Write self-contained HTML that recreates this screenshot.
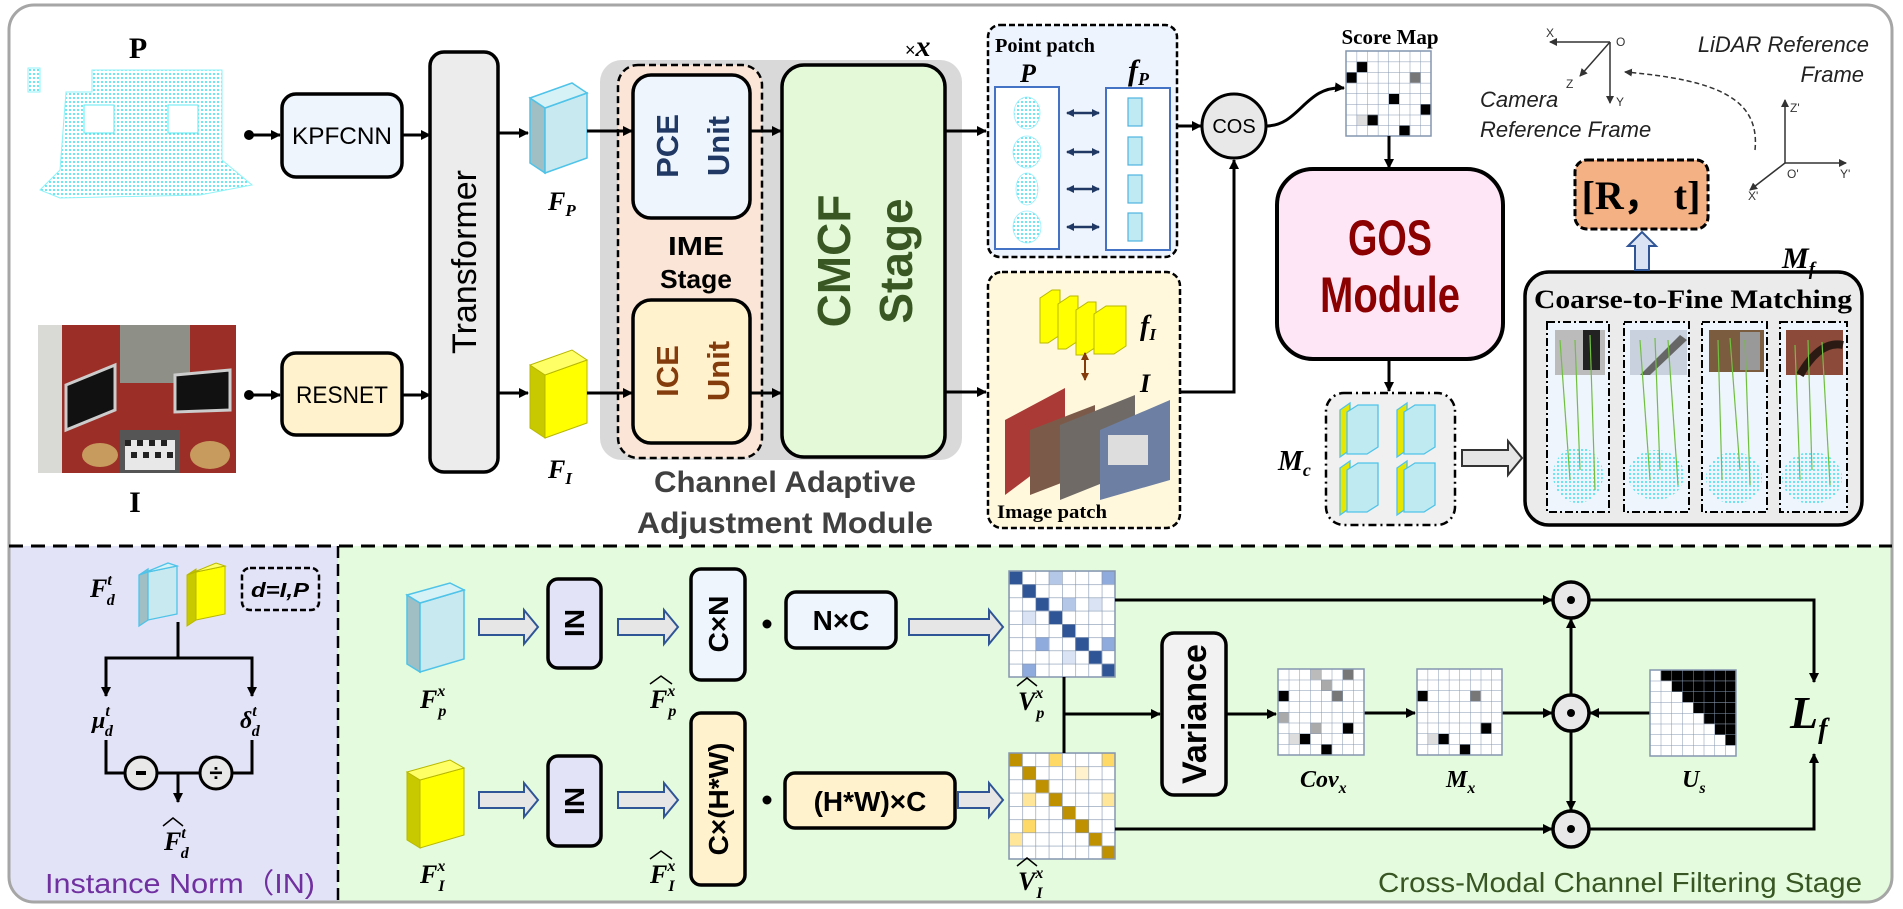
<!DOCTYPE html>
<html><head><meta charset="utf-8"><style>
html,body{margin:0;padding:0;background:#fff;}
svg{display:block;}
text{font-family:"Liberation Sans",sans-serif;}
.sf{font-family:"Liberation Serif",serif;font-weight:bold;}
.si{font-family:"Liberation Serif",serif;font-weight:bold;font-style:italic;}
</style></head><body>
<svg width="1903" height="909" viewBox="0 0 1903 909" xmlns="http://www.w3.org/2000/svg">
<defs>
<marker id="ar" markerWidth="10" markerHeight="10" refX="9" refY="5" orient="auto" markerUnits="userSpaceOnUse"><path d="M0,0 L10,5 L0,10 z" fill="#000"/></marker>
<marker id="arb" markerWidth="8" markerHeight="8" refX="7" refY="4" orient="auto-start-reverse" markerUnits="userSpaceOnUse"><path d="M0,0 L8,4 L0,8 z" fill="#1f3864"/></marker>
<marker id="arr" markerWidth="8" markerHeight="8" refX="7" refY="4" orient="auto-start-reverse" markerUnits="userSpaceOnUse"><path d="M0,0 L8,4 L0,8 z" fill="#843c0c"/></marker>
<marker id="ars" markerWidth="8" markerHeight="8" refX="7" refY="4" orient="auto" markerUnits="userSpaceOnUse"><path d="M0,0 L8,4 L0,8 z" fill="#333"/></marker>
<clipPath id="frame"><rect x="9" y="5" width="1883" height="897" rx="25"/></clipPath>
<pattern id="dots" width="4" height="4" patternUnits="userSpaceOnUse"><circle cx="2" cy="2" r="1" fill="#3fe0ee"/></pattern>
<pattern id="gVp" x="1009" y="571" width="13.25" height="13.25" patternUnits="userSpaceOnUse"><path d="M0,0H13.25M0,0V13.25" stroke="#8496b0" stroke-width="1.2" fill="none"/></pattern>
<pattern id="gVi" x="1009" y="753" width="13.25" height="13.25" patternUnits="userSpaceOnUse"><path d="M0,0H13.25M0,0V13.25" stroke="#8496b0" stroke-width="1.2" fill="none"/></pattern>
<pattern id="gS" x="1346" y="51" width="10.625" height="10.625" patternUnits="userSpaceOnUse"><path d="M0,0H10.625M0,0V10.625" stroke="#8496b0" stroke-width="1" fill="none"/></pattern>
<pattern id="gC" x="1278" y="669" width="10.75" height="10.75" patternUnits="userSpaceOnUse"><path d="M0,0H10.75M0,0V10.75" stroke="#8496b0" stroke-width="1" fill="none"/></pattern>
<pattern id="gM" x="1417" y="669" width="10.625" height="10.75" patternUnits="userSpaceOnUse"><path d="M0,0H10.625M0,0V10.75" stroke="#8496b0" stroke-width="1" fill="none"/></pattern>
<pattern id="gU" x="1650" y="670" width="10.75" height="10.75" patternUnits="userSpaceOnUse"><path d="M0,0H10.75M0,0V10.75" stroke="#8496b0" stroke-width="1" fill="none"/></pattern>
</defs>

<rect x="9" y="5" width="1883" height="897" rx="25" fill="#fff"/>
<g clip-path="url(#frame)">
<rect x="9" y="546" width="329" height="358" fill="#e3e3f8"/>
<rect x="338" y="546" width="1556" height="358" fill="#e5fbdd"/>
</g>
<rect x="9" y="5" width="1883" height="897" rx="25" fill="none" stroke="#a6a6a6" stroke-width="3"/>
<line x1="9" y1="546" x2="1892" y2="546" stroke="#000" stroke-width="3" stroke-dasharray="14 8"/>
<line x1="338" y1="546" x2="338" y2="902" stroke="#000" stroke-width="2.5" stroke-dasharray="12 6"/>

<text x="138" y="58" class="sf" font-size="30" text-anchor="middle">P</text>
<g fill="url(#dots)" stroke="#8ff3f8" stroke-width="1">
<polygon points="92,70 222,70 222,160 252,185 200,195 60,198 40,190 60,170 66,92 92,92"/>
<rect x="28" y="68" width="12" height="24"/>
</g>
<rect x="84" y="105" width="30" height="28" fill="#fff" stroke="#5fe8f0"/>
<rect x="168" y="105" width="30" height="28" fill="#fff" stroke="#5fe8f0"/>

<rect x="38" y="325" width="198" height="148" fill="#9b2f27"/>
<rect x="38" y="325" width="24" height="148" fill="#d9d9d6"/>
<rect x="120" y="325" width="70" height="58" fill="#8e8f86"/>
<polygon points="66,385 115,365 115,410 66,430" fill="#111" stroke="#ccc" stroke-width="3"/>
<polygon points="175,375 230,370 230,410 175,412" fill="#111" stroke="#ccc" stroke-width="3"/>
<rect x="120" y="430" width="60" height="43" fill="#555"/>
<rect x="125" y="440" width="50" height="30" fill="#e8e8e8"/>
<g fill="#222"><rect x="125" y="440" width="6" height="6"/><rect x="137" y="440" width="6" height="6"/><rect x="149" y="440" width="6" height="6"/><rect x="161" y="440" width="6" height="6"/><rect x="131" y="452" width="6" height="6"/><rect x="143" y="452" width="6" height="6"/><rect x="155" y="452" width="6" height="6"/><rect x="167" y="452" width="6" height="6"/></g>
<ellipse cx="100" cy="455" rx="18" ry="12" fill="#c79a5e"/>
<ellipse cx="210" cy="455" rx="20" ry="14" fill="#c79a5e"/>
<text x="135" y="512" class="sf" font-size="30" text-anchor="middle">I</text>

<circle cx="249" cy="135" r="5"/><line x1="249" y1="135" x2="280" y2="135" stroke="#000" stroke-width="3" marker-end="url(#ar)"/>
<rect x="282" y="94" width="120" height="83" rx="14" fill="#eef5fc" stroke="#000" stroke-width="3.5"/>
<text x="342" y="144" font-size="24" text-anchor="middle" textLength="100" lengthAdjust="spacingAndGlyphs">KPFCNN</text>
<circle cx="249" cy="395" r="5"/><line x1="249" y1="395" x2="280" y2="395" stroke="#000" stroke-width="3" marker-end="url(#ar)"/>
<rect x="282" y="353" width="120" height="82" rx="14" fill="#fff2cc" stroke="#000" stroke-width="3.5"/>
<text x="342" y="403" font-size="24" text-anchor="middle" textLength="92" lengthAdjust="spacingAndGlyphs">RESNET</text>
<line x1="402" y1="135" x2="430" y2="135" stroke="#000" stroke-width="3" marker-end="url(#ar)"/>
<line x1="402" y1="395" x2="430" y2="395" stroke="#000" stroke-width="3" marker-end="url(#ar)"/>
<rect x="430" y="52" width="68" height="420" rx="14" fill="#ececec" stroke="#000" stroke-width="3.5"/>
<text transform="translate(476,262) rotate(-90)" font-size="34" text-anchor="middle">Transformer</text>
<line x1="498" y1="133" x2="528" y2="133" stroke="#000" stroke-width="3" marker-end="url(#ar)"/>
<line x1="498" y1="393" x2="528" y2="393" stroke="#000" stroke-width="3" marker-end="url(#ar)"/>

<g stroke="#4fc3e8" stroke-width="1.5">
<polygon points="530,98 545,108 545,173 530,163" fill="#9fbfc4"/>
<polygon points="545,108 587,93 587,158 545,173" fill="#c8e9ef"/>
<polygon points="530,98 572,83 587,93 545,108" fill="#d6f2f6"/>
</g>
<g stroke="#b8b800" stroke-width="1">
<polygon points="530,365 545,375 545,438 530,428" fill="#c9c900"/>
<polygon points="545,375 587,360 587,423 545,438" fill="#ffff00"/>
<polygon points="530,365 572,350 587,360 545,375" fill="#ffff66"/>
</g>
<text x="548" y="210" class="si" font-size="26">F<tspan font-size="17" dy="6">P</tspan></text>
<text x="548" y="478" class="si" font-size="26">F<tspan font-size="17" dy="6">I</tspan></text>

<rect x="600" y="60" width="362" height="400" rx="22" fill="#d9d9d9"/>
<rect x="618" y="65" width="144" height="393" rx="20" fill="#fbe5d6" stroke="#000" stroke-width="2.5" stroke-dasharray="7 4"/>
<rect x="633" y="75" width="117" height="143" rx="18" fill="#eef5fc" stroke="#000" stroke-width="3.5"/>
<text transform="translate(678,146) rotate(-90)" font-size="31" font-weight="bold" fill="#1f3864" text-anchor="middle">PCE</text>
<text transform="translate(729,146) rotate(-90)" font-size="31" font-weight="bold" fill="#1f3864" text-anchor="middle">Unit</text>
<text x="696" y="255" font-size="26" font-weight="bold" text-anchor="middle" textLength="56" lengthAdjust="spacingAndGlyphs">IME</text>
<text x="696" y="288" font-size="26" font-weight="bold" text-anchor="middle" textLength="72" lengthAdjust="spacingAndGlyphs">Stage</text>
<rect x="633" y="300" width="117" height="143" rx="18" fill="#fff2cc" stroke="#000" stroke-width="3.5"/>
<text transform="translate(678,371) rotate(-90)" font-size="31" font-weight="bold" fill="#843c0c" text-anchor="middle">ICE</text>
<text transform="translate(729,371) rotate(-90)" font-size="31" font-weight="bold" fill="#843c0c" text-anchor="middle">Unit</text>
<line x1="587" y1="131" x2="632" y2="131" stroke="#000" stroke-width="3" marker-end="url(#ar)"/>
<line x1="587" y1="393" x2="632" y2="393" stroke="#000" stroke-width="3" marker-end="url(#ar)"/>
<line x1="750" y1="131" x2="781" y2="131" stroke="#000" stroke-width="3" marker-end="url(#ar)"/>
<line x1="750" y1="393" x2="781" y2="393" stroke="#000" stroke-width="3" marker-end="url(#ar)"/>
<rect x="782" y="65" width="163" height="392" rx="22" fill="#e3f9d8" stroke="#000" stroke-width="3.5"/>
<text transform="translate(850,261) rotate(-90)" font-size="46" font-weight="bold" fill="#385723" text-anchor="middle">CMCF</text>
<text transform="translate(912,261) rotate(-90)" font-size="46" font-weight="bold" fill="#385723" text-anchor="middle">Stage</text>
<text x="905" y="56" font-size="18">×<tspan class="si" font-size="30">x</tspan></text>
<text x="785" y="492" font-size="30" font-weight="bold" fill="#404040" text-anchor="middle" textLength="262" lengthAdjust="spacingAndGlyphs">Channel Adaptive</text>
<text x="785" y="533" font-size="30" font-weight="bold" fill="#404040" text-anchor="middle" textLength="296" lengthAdjust="spacingAndGlyphs">Adjustment Module</text>
<line x1="945" y1="131" x2="986" y2="131" stroke="#000" stroke-width="3" marker-end="url(#ar)"/>
<line x1="945" y1="392" x2="986" y2="392" stroke="#000" stroke-width="3" marker-end="url(#ar)"/>

<rect x="988" y="25" width="189" height="232" rx="12" fill="#eef4fd" stroke="#000" stroke-width="2.5" stroke-dasharray="6 3"/>
<text x="995" y="52" class="sf" font-size="20" textLength="100" lengthAdjust="spacingAndGlyphs">Point patch</text>
<text x="1020" y="82" class="si" font-size="26">P</text>
<text x="1128" y="80" class="si" font-size="30">f<tspan font-size="18" dy="5">P</tspan></text>
<rect x="995" y="87" width="64" height="162" fill="#fff" stroke="#4472c4" stroke-width="2"/>
<g fill="url(#dots)" stroke="#9ef" stroke-width="0.8">
<ellipse cx="1027" cy="113" rx="13" ry="16"/><ellipse cx="1027" cy="152" rx="14" ry="16"/><ellipse cx="1027" cy="189" rx="11" ry="16"/><ellipse cx="1027" cy="227" rx="14" ry="16"/>
</g>
<rect x="1106" y="88" width="64" height="162" fill="#fff" stroke="#4472c4" stroke-width="2"/>
<g fill="#bfe9f3" stroke="#4fb3e0" stroke-width="1.2">
<rect x="1128" y="98" width="14" height="28"/><rect x="1128" y="137" width="14" height="28"/><rect x="1128" y="175" width="14" height="28"/><rect x="1128" y="213" width="14" height="28"/>
</g>
<g stroke="#1f3864" stroke-width="2.5" marker-start="url(#arb)" marker-end="url(#arb)">
<line x1="1067" y1="113" x2="1099" y2="113"/><line x1="1067" y1="152" x2="1099" y2="152"/><line x1="1067" y1="189" x2="1099" y2="189"/><line x1="1067" y1="227" x2="1099" y2="227"/>
</g>
<line x1="1177" y1="126" x2="1201" y2="126" stroke="#000" stroke-width="3" marker-end="url(#ar)"/>
<circle cx="1234" cy="126" r="32" fill="#e8e8e8" stroke="#000" stroke-width="3"/>
<text x="1234" y="133" font-size="20" text-anchor="middle">COS</text>
<path d="M1266,126 C1300,126 1305,85 1344,88" fill="none" stroke="#000" stroke-width="3" marker-end="url(#ar)"/>

<rect x="988" y="272" width="192" height="256" rx="14" fill="#fff8dc" stroke="#000" stroke-width="2.5" stroke-dasharray="6 3"/>
<g stroke="#b8b800" stroke-width="1">
<polygon points="1040,298 1052,290 1060,290 1060,335 1048,343 1040,343" fill="#ffff00"/>
<polygon points="1058,304 1070,296 1078,296 1078,341 1066,349 1058,349" fill="#ffff00"/>
<polygon points="1076,310 1088,302 1096,302 1096,347 1084,355 1076,355" fill="#ffff00"/>
<polygon points="1094,314 1106,306 1126,306 1126,346 1114,354 1094,354" fill="#ffff00"/>
</g>
<text x="1140" y="335" class="si" font-size="28">f<tspan font-size="17" dy="5">I</tspan></text>
<line x1="1085" y1="353" x2="1085" y2="380" stroke="#843c0c" stroke-width="2" marker-start="url(#arr)" marker-end="url(#arr)"/>
<text x="1140" y="392" class="si" font-size="26">I</text>
<polygon points="1005,420 1065,388 1065,450 1005,495" fill="#a93a36"/>
<polygon points="1030,430 1095,405 1095,470 1030,495" fill="#7c5a4a"/>
<polygon points="1060,425 1135,395 1135,470 1060,500" fill="#6f6a66"/>
<polygon points="1100,430 1170,400 1170,480 1100,500" fill="#6d7fa3"/>
<rect x="1108" y="435" width="40" height="30" fill="#ddd"/>
<text x="997" y="518" class="sf" font-size="19" textLength="110" lengthAdjust="spacingAndGlyphs">Image patch</text>
<polyline points="1180,392 1234,392 1234,160" fill="none" stroke="#000" stroke-width="3" marker-end="url(#ar)"/>

<text x="1390" y="44" class="sf" font-size="21" text-anchor="middle">Score Map</text>
<rect x="1346" y="51" width="85" height="85" fill="#fff"/>
<g fill="#000">
<rect x="1356.6" y="61.6" width="10.6" height="10.6"/><rect x="1346" y="72.2" width="10.6" height="10.6"/><rect x="1388.5" y="93.5" width="10.6" height="10.6"/><rect x="1420.4" y="104.1" width="10.6" height="10.6"/><rect x="1367.2" y="114.7" width="10.6" height="10.6"/><rect x="1399.1" y="125.3" width="10.6" height="10.6"/>
</g>
<rect x="1409.8" y="72.2" width="10.6" height="10.6" fill="#777"/>
<rect x="1356.6" y="114.7" width="10.6" height="10.6" fill="#ddd"/>
<rect x="1346" y="51" width="85" height="85" fill="url(#gS)" stroke="#8496b0" stroke-width="1.5"/>
<line x1="1389" y1="136" x2="1389" y2="168" stroke="#000" stroke-width="3" marker-end="url(#ar)"/>

<rect x="1277" y="169" width="226" height="190" rx="36" fill="#ffe6f7" stroke="#000" stroke-width="4"/>
<text x="1390" y="255" font-size="50" font-weight="bold" fill="#8b0000" text-anchor="middle" textLength="84" lengthAdjust="spacingAndGlyphs">GOS</text>
<text x="1390" y="312" font-size="50" font-weight="bold" fill="#8b0000" text-anchor="middle" textLength="140" lengthAdjust="spacingAndGlyphs">Module</text>
<line x1="1389" y1="359" x2="1389" y2="391" stroke="#000" stroke-width="3" marker-end="url(#ar)"/>

<rect x="1326" y="393" width="129" height="132" rx="18" fill="#f0f0f0" stroke="#000" stroke-width="2.5" stroke-dasharray="8 4 2 4"/>
<g stroke="#4fc3e8" stroke-width="1.3">
<g><polygon points="1340,410 1350,403 1350,450 1340,457" fill="#e6e600"/><polygon points="1347,412 1358,405 1378,405 1378,447 1367,454 1347,454" fill="#bfeaf2"/></g>
<g><polygon points="1397,410 1407,403 1407,450 1397,457" fill="#e6e600"/><polygon points="1404,412 1415,405 1435,405 1435,447 1424,454 1404,454" fill="#bfeaf2"/></g>
<g><polygon points="1340,468 1350,461 1350,508 1340,515" fill="#e6e600"/><polygon points="1347,470 1358,463 1378,463 1378,505 1367,512 1347,512" fill="#bfeaf2"/></g>
<g><polygon points="1397,468 1407,461 1407,508 1397,515" fill="#e6e600"/><polygon points="1404,470 1415,463 1435,463 1435,505 1424,512 1404,512" fill="#bfeaf2"/></g>
</g>
<text x="1278" y="470" class="si" font-size="28">M<tspan font-size="18" dy="6">c</tspan></text>
<polygon points="1462,450 1508,450 1508,441 1522,458 1508,475 1508,466 1462,466" fill="#e6e6e6" stroke="#333" stroke-width="2"/>

<rect x="1525" y="272" width="337" height="253" rx="24" fill="#ebebeb" stroke="#000" stroke-width="3.5"/>
<text x="1693" y="308" class="sf" font-size="26" text-anchor="middle" textLength="318" lengthAdjust="spacingAndGlyphs">Coarse-to-Fine Matching</text>
<g stroke="#000" stroke-width="2" stroke-dasharray="8 3 2 3">
<rect x="1547" y="322" width="62" height="190" fill="#eef5fc"/>
<rect x="1624" y="322" width="65" height="190" fill="#eef5fc"/>
<rect x="1702" y="322" width="65" height="190" fill="#eef5fc"/>
<rect x="1780" y="322" width="67" height="190" fill="#eef5fc"/>
</g>
<rect x="1555" y="330" width="50" height="45" fill="#bbb"/><rect x="1583" y="330" width="17" height="40" fill="#222"/>
<rect x="1630" y="330" width="57" height="45" fill="#c9d1de"/><polygon points="1640,375 1680,335 1687,340 1650,375" fill="#666"/>
<rect x="1709" y="330" width="55" height="42" fill="#7b5c3e"/><rect x="1740" y="332" width="20" height="38" fill="#999"/>
<rect x="1786" y="330" width="57" height="45" fill="#8b4a3a"/><path d="M1800,375 Q1820,340 1843,345" stroke="#2b1a14" stroke-width="8" fill="none"/>
<g fill="url(#dots)" stroke="none">
<ellipse cx="1578" cy="475" rx="25" ry="28"/><ellipse cx="1656" cy="475" rx="28" ry="25"/><ellipse cx="1734" cy="478" rx="28" ry="26"/><ellipse cx="1812" cy="478" rx="30" ry="26"/>
</g>
<g stroke="#70c040" stroke-width="1.2">
<line x1="1560" y1="340" x2="1570" y2="480"/><line x1="1575" y1="340" x2="1580" y2="470"/><line x1="1590" y1="335" x2="1595" y2="490"/>
<line x1="1640" y1="340" x2="1650" y2="480"/><line x1="1655" y1="338" x2="1660" y2="470"/><line x1="1668" y1="340" x2="1678" y2="485"/>
<line x1="1718" y1="340" x2="1722" y2="480"/><line x1="1730" y1="338" x2="1740" y2="470"/><line x1="1745" y1="340" x2="1750" y2="485"/>
<line x1="1795" y1="345" x2="1800" y2="480"/><line x1="1808" y1="340" x2="1812" y2="470"/><line x1="1822" y1="342" x2="1830" y2="485"/>
</g>
<text x="1782" y="268" class="si" font-size="30">M<tspan font-size="19" dy="7">f</tspan></text>
<polygon points="1635,270 1635,246 1628,246 1642,232 1656,246 1649,246 1649,270" fill="#dae3f3" stroke="#2f5597" stroke-width="2"/>
<rect x="1575" y="160" width="133" height="69" rx="12" fill="#f4b183" stroke="#000" stroke-width="3" stroke-dasharray="7 3"/>
<text x="1641" y="209" class="sf" font-size="40" text-anchor="middle">[R， t]</text>

<g stroke="#333" stroke-width="1.5" fill="none">
<line x1="1610" y1="42" x2="1550" y2="42" marker-end="url(#ars)"/>
<line x1="1610" y1="42" x2="1610" y2="103" marker-end="url(#ars)"/>
<line x1="1610" y1="42" x2="1580" y2="76" marker-end="url(#ars)"/>
<line x1="1785" y1="163" x2="1785" y2="100" marker-end="url(#ars)"/>
<line x1="1785" y1="163" x2="1846" y2="163" marker-end="url(#ars)"/>
<line x1="1785" y1="163" x2="1750" y2="190" marker-end="url(#ars)"/>
<path d="M1755,150 C1760,100 1720,80 1625,72" stroke-dasharray="5 3" marker-end="url(#ars)"/>
</g>
<g font-family="Liberation Serif,serif" font-size="12" fill="#333">
<text x="1546" y="37">X</text><text x="1616" y="46">O</text><text x="1566" y="88">Z</text><text x="1616" y="106">Y</text>
<text x="1790" y="112">Z'</text><text x="1787" y="178">O'</text><text x="1840" y="178">Y'</text><text x="1748" y="200">X'</text>
</g>
<g font-family="DejaVu Sans,sans-serif" font-style="italic" font-size="22" fill="#222">
<text x="1480" y="107">Camera</text>
<text x="1480" y="137">Reference Frame</text>
<text x="1869" y="52" text-anchor="end">LiDAR Reference</text>
<text x="1864" y="82" text-anchor="end">Frame</text>
</g>

<text x="90" y="597" class="si" font-size="26">F<tspan font-size="16" dy="-12">t</tspan><tspan font-size="16" dx="-5" dy="20">d</tspan></text>
<g stroke="#4fc3e8" stroke-width="1.3">
<polygon points="139,575 148,569 148,620 139,626" fill="#9fbfc4"/><polygon points="148,572 177,566 177,614 148,620" fill="#c8e9ef"/>
<polygon points="139,575 168,563 177,566 148,572" fill="#d6f2f6"/>
</g>
<g stroke="#b8b800" stroke-width="1">
<polygon points="187,575 196,569 196,620 187,626" fill="#c9c900"/><polygon points="196,572 225,566 225,614 196,620" fill="#ffff00"/>
<polygon points="187,575 216,563 225,566 196,572" fill="#ffff66"/>
</g>
<rect x="242" y="568" width="77" height="42" rx="8" fill="none" stroke="#000" stroke-width="2.5" stroke-dasharray="6 3"/>
<text x="280" y="597" font-size="20" font-style="italic" font-weight="bold" text-anchor="middle" textLength="58" lengthAdjust="spacingAndGlyphs">d=I,P</text>
<g stroke="#000" stroke-width="3" fill="none">
<polyline points="178,622 178,658"/><polyline points="106,695 106,658 252,658 252,695"/>
<polyline points="106,740 106,773 125,773"/><polyline points="157,773 200,773"/><polyline points="232,773 252,773 252,740"/>
</g>
<line x1="106" y1="680" x2="106" y2="696" stroke="#000" stroke-width="3" marker-end="url(#ar)"/>
<line x1="252" y1="680" x2="252" y2="696" stroke="#000" stroke-width="3" marker-end="url(#ar)"/>
<text x="92" y="728" class="si" font-size="24">μ<tspan font-size="16" dy="-12">t</tspan><tspan font-size="16" dx="-5" dy="20">d</tspan></text>
<text x="240" y="728" class="si" font-size="24">δ<tspan font-size="16" dy="-12">t</tspan><tspan font-size="16" dx="-5" dy="20">d</tspan></text>
<circle cx="141" cy="773" r="16" fill="#e8e8e8" stroke="#000" stroke-width="3"/>
<circle cx="216" cy="773" r="16" fill="#e8e8e8" stroke="#000" stroke-width="3"/>
<rect x="136" y="771" width="10" height="4" fill="#000"/>
<text x="216" y="781" font-size="24" font-weight="bold" text-anchor="middle">÷</text>
<line x1="178" y1="773" x2="178" y2="802" stroke="#000" stroke-width="3" marker-end="url(#ar)"/>
<text x="164" y="850" class="si" font-size="26">F<tspan font-size="16" dy="-12">t</tspan><tspan font-size="16" dx="-5" dy="20">d</tspan></text>
<path d="M163,826 L173,818 L183,826" fill="none" stroke="#000" stroke-width="1.5"/>
<text x="45" y="893" font-size="28" fill="#7030a0" textLength="270" lengthAdjust="spacingAndGlyphs">Instance Norm（IN)</text>

<g stroke="#4fc3e8" stroke-width="1.5">
<polygon points="407,595 420,603 420,672 407,664" fill="#9fbfc4"/><polygon points="420,603 464,590 464,659 420,672" fill="#c8e9ef"/>
<polygon points="407,595 450,583 464,590 420,603" fill="#d6f2f6"/>
</g>
<g stroke="#b8b800" stroke-width="1">
<polygon points="407,772 420,780 420,848 407,840" fill="#c9c900"/><polygon points="420,780 464,768 464,835 420,848" fill="#ffff00"/>
<polygon points="407,772 450,760 464,768 420,780" fill="#ffff66"/>
</g>
<text x="420" y="708" class="si" font-size="26">F<tspan font-size="16" dy="-12">x</tspan><tspan font-size="16" dx="-7" dy="20">p</tspan></text>
<text x="420" y="883" class="si" font-size="26">F<tspan font-size="16" dy="-12">x</tspan><tspan font-size="16" dx="-7" dy="20">I</tspan></text>
<g fill="#e6e6e6" stroke="#2f5597" stroke-width="2">
<polygon points="479,619 524,619 524,610 538,627 524,644 524,635 479,635"/>
<polygon points="618,619 664,619 664,610 678,627 664,644 664,635 618,635"/>
<polygon points="909,619 989,619 989,610 1003,627 989,644 989,635 909,635"/>
<polygon points="479,792 524,792 524,783 538,800 524,817 524,808 479,808"/>
<polygon points="618,792 664,792 664,783 678,800 664,817 664,808 618,808"/>
<polygon points="958,792 989,792 989,783 1003,800 989,817 989,808 958,808"/>
</g>
<rect x="548" y="579" width="53" height="89" rx="10" fill="#e3e3f8" stroke="#000" stroke-width="3.5"/>
<text transform="translate(574,623) rotate(-90)" font-size="28" font-weight="bold" text-anchor="middle" dy="10">IN</text>
<rect x="548" y="756" width="53" height="90" rx="10" fill="#e3e3f8" stroke="#000" stroke-width="3.5"/>
<text transform="translate(574,801) rotate(-90)" font-size="28" font-weight="bold" text-anchor="middle" dy="10">IN</text>
<rect x="691" y="569" width="54" height="111" rx="10" fill="#eef5fc" stroke="#000" stroke-width="3.5"/>
<text transform="translate(718,624) rotate(-90)" font-size="28" font-weight="bold" text-anchor="middle" dy="10">C×N</text>
<rect x="691" y="713" width="54" height="172" rx="10" fill="#fff2cc" stroke="#000" stroke-width="3.5"/>
<text transform="translate(718,799) rotate(-90)" font-size="28" font-weight="bold" text-anchor="middle" dy="10">C×(H*W)</text>
<circle cx="767" cy="624" r="4.5"/><circle cx="767" cy="800" r="4.5"/>
<rect x="786" y="592" width="110" height="56" rx="10" fill="#eef5fc" stroke="#000" stroke-width="3.5"/>
<text x="841" y="630" font-size="28" font-weight="bold" text-anchor="middle">N×C</text>
<rect x="785" y="773" width="170" height="55" rx="10" fill="#fff2cc" stroke="#000" stroke-width="3.5"/>
<text x="870" y="811" font-size="28" font-weight="bold" text-anchor="middle">(H*W)×C</text>
<text x="650" y="708" class="si" font-size="26">F<tspan font-size="16" dy="-12">x</tspan><tspan font-size="16" dx="-7" dy="20">p</tspan></text>
<path d="M650,684 L661,676 L672,684" fill="none" stroke="#000" stroke-width="1.5"/>
<text x="650" y="883" class="si" font-size="26">F<tspan font-size="16" dy="-12">x</tspan><tspan font-size="16" dx="-7" dy="20">I</tspan></text>
<path d="M650,859 L661,851 L672,859" fill="none" stroke="#000" stroke-width="1.5"/>

<rect x="1009" y="571" width="106" height="106" fill="#fff"/>
<g fill="#2f5597">
<rect x="1009" y="571" width="13.25" height="13.25"/><rect x="1022.25" y="584.25" width="13.25" height="13.25"/><rect x="1035.5" y="597.5" width="13.25" height="13.25"/><rect x="1048.75" y="610.75" width="13.25" height="13.25"/><rect x="1062" y="624" width="13.25" height="13.25"/><rect x="1075.25" y="637.25" width="13.25" height="13.25"/><rect x="1088.5" y="650.5" width="13.25" height="13.25"/><rect x="1101.75" y="663.75" width="13.25" height="13.25"/>
</g>
<rect x="1048.75" y="571" width="13.25" height="13.25" fill="#b4c7e7"/><rect x="1101.75" y="571" width="13.25" height="13.25" fill="#8faadc"/>
<rect x="1062" y="597.5" width="13.25" height="13.25" fill="#b4c7e7"/><rect x="1088.5" y="597.5" width="13.25" height="13.25" fill="#dae3f3"/>
<rect x="1022.25" y="610.75" width="13.25" height="13.25" fill="#dae3f3"/><rect x="1035.5" y="637.25" width="13.25" height="13.25" fill="#8faadc"/>
<rect x="1101.75" y="637.25" width="13.25" height="13.25" fill="#8faadc"/><rect x="1062" y="650.5" width="13.25" height="13.25" fill="#dae3f3"/>
<rect x="1022.25" y="663.75" width="13.25" height="13.25" fill="#8faadc"/>
<rect x="1009" y="571" width="106" height="106" fill="url(#gVp)" stroke="#8496b0" stroke-width="1.5"/>
<rect x="1009" y="753" width="106" height="106" fill="#fff"/>
<g fill="#bf9000">
<rect x="1009" y="753" width="13.25" height="13.25"/><rect x="1022.25" y="766.25" width="13.25" height="13.25"/><rect x="1035.5" y="779.5" width="13.25" height="13.25"/><rect x="1048.75" y="792.75" width="13.25" height="13.25"/><rect x="1062" y="806" width="13.25" height="13.25"/><rect x="1075.25" y="819.25" width="13.25" height="13.25"/><rect x="1088.5" y="832.5" width="13.25" height="13.25"/><rect x="1101.75" y="845.75" width="13.25" height="13.25"/>
</g>
<rect x="1048.75" y="753" width="13.25" height="13.25" fill="#ffd966"/><rect x="1101.75" y="753" width="13.25" height="13.25" fill="#ffd966"/>
<rect x="1075.25" y="766.25" width="13.25" height="13.25" fill="#fff2cc"/><rect x="1022.25" y="792.75" width="13.25" height="13.25" fill="#ffe699"/>
<rect x="1101.75" y="792.75" width="13.25" height="13.25" fill="#ffe699"/><rect x="1022.25" y="819.25" width="13.25" height="13.25" fill="#ffd966"/>
<rect x="1009" y="832.5" width="13.25" height="13.25" fill="#ffe699"/>
<rect x="1009" y="753" width="106" height="106" fill="url(#gVi)" stroke="#8496b0" stroke-width="1.5"/>
<text x="1018" y="710" class="si" font-size="26">V<tspan font-size="16" dy="-12">x</tspan><tspan font-size="16" dx="-7" dy="20">p</tspan></text>
<path d="M1017,686 L1027,678 L1037,686" fill="none" stroke="#000" stroke-width="1.5"/>
<text x="1018" y="890" class="si" font-size="26">V<tspan font-size="16" dy="-12">x</tspan><tspan font-size="16" dx="-7" dy="20">I</tspan></text>
<path d="M1017,866 L1027,858 L1037,866" fill="none" stroke="#000" stroke-width="1.5"/>

<g stroke="#000" stroke-width="3" fill="none">
<polyline points="1064,677 1064,753"/>
<line x1="1064" y1="714" x2="1160" y2="714" marker-end="url(#ar)"/>
<line x1="1115" y1="600" x2="1552" y2="600" marker-end="url(#ar)"/>
<line x1="1115" y1="829" x2="1552" y2="829" marker-end="url(#ar)"/>
<line x1="1226" y1="714" x2="1276" y2="714" marker-end="url(#ar)"/>
<line x1="1364" y1="713" x2="1415" y2="713" marker-end="url(#ar)"/>
<line x1="1502" y1="713" x2="1552" y2="713" marker-end="url(#ar)"/>
<line x1="1650" y1="713" x2="1590" y2="713" marker-end="url(#ar)"/>
<line x1="1571" y1="695" x2="1571" y2="619" marker-end="url(#ar)"/>
<line x1="1571" y1="731" x2="1571" y2="810" marker-end="url(#ar)"/>
<polyline points="1589,600 1814,600 1814,682" marker-end="url(#ar)"/>
<polyline points="1589,829 1814,829 1814,754" marker-end="url(#ar)"/>
</g>
<rect x="1162" y="633" width="64" height="162" rx="12" fill="#f2f2f2" stroke="#000" stroke-width="3.5"/>
<text transform="translate(1194,714) rotate(-90)" font-size="34" font-weight="bold" text-anchor="middle" dy="12">Variance</text>

<rect x="1278" y="669" width="86" height="86" fill="#fff"/>
<rect x="1310.25" y="669" width="10.75" height="10.75" fill="#bbb"/><rect x="1342.5" y="669" width="10.75" height="10.75" fill="#777"/>
<rect x="1321" y="679.75" width="10.75" height="10.75" fill="#aaa"/><rect x="1278" y="690.5" width="10.75" height="10.75" fill="#000"/>
<rect x="1331.75" y="690.5" width="10.75" height="10.75" fill="#777"/><rect x="1278" y="712" width="10.75" height="10.75" fill="#aaa"/>
<rect x="1310.25" y="722.75" width="10.75" height="10.75" fill="#aaa"/><rect x="1342.5" y="722.75" width="10.75" height="10.75" fill="#000"/>
<rect x="1288.75" y="733.5" width="10.75" height="10.75" fill="#ddd"/><rect x="1299.5" y="733.5" width="10.75" height="10.75" fill="#000"/>
<rect x="1321" y="744.25" width="10.75" height="10.75" fill="#000"/>
<rect x="1278" y="669" width="86" height="86" fill="url(#gC)" stroke="#8496b0" stroke-width="1.5"/>
<text x="1300" y="787" class="si" font-size="24">Cov<tspan font-size="16" dy="6">x</tspan></text>
<rect x="1417" y="669" width="85" height="86" fill="#fff"/>
<rect x="1417" y="690.5" width="10.6" height="10.75" fill="#000"/><rect x="1470" y="690.5" width="10.6" height="10.75" fill="#777"/>
<rect x="1480.7" y="722.75" width="10.6" height="10.75" fill="#000"/><rect x="1427.6" y="733.5" width="10.6" height="10.75" fill="#ddd"/>
<rect x="1438.2" y="733.5" width="10.6" height="10.75" fill="#000"/><rect x="1459.5" y="744.25" width="10.6" height="10.75" fill="#000"/>
<rect x="1417" y="669" width="85" height="86" fill="url(#gM)" stroke="#8496b0" stroke-width="1.5"/>
<text x="1446" y="787" class="si" font-size="24">M<tspan font-size="16" dy="6">x</tspan></text>
<rect x="1650" y="670" width="86" height="86" fill="#fff"/>
<g fill="#000">
<rect x="1660.75" y="670" width="75.25" height="10.75"/><rect x="1671.5" y="680.75" width="64.5" height="10.75"/><rect x="1682.25" y="691.5" width="53.75" height="10.75"/><rect x="1693" y="702.25" width="43" height="10.75"/><rect x="1703.75" y="713" width="32.25" height="10.75"/><rect x="1714.5" y="723.75" width="21.5" height="10.75"/><rect x="1725.25" y="734.5" width="10.75" height="10.75"/>
</g>
<rect x="1650" y="670" width="86" height="86" fill="url(#gU)" stroke="#8496b0" stroke-width="1.5"/>
<text x="1682" y="787" class="si" font-size="24">U<tspan font-size="16" dy="6">s</tspan></text>
<g fill="#e8e8e8" stroke="#000" stroke-width="3.5">
<circle cx="1571" cy="600" r="18"/><circle cx="1571" cy="713" r="18"/><circle cx="1571" cy="829" r="18"/>
</g>
<circle cx="1571" cy="600" r="4"/><circle cx="1571" cy="713" r="4"/><circle cx="1571" cy="829" r="4"/>
<text x="1790" y="728" class="si" font-size="46">L<tspan font-size="28" dy="10">f</tspan></text>
<text x="1862" y="892" font-size="28" fill="#375623" text-anchor="end" textLength="484" lengthAdjust="spacingAndGlyphs">Cross-Modal Channel Filtering Stage</text>
</svg>
</body></html>
